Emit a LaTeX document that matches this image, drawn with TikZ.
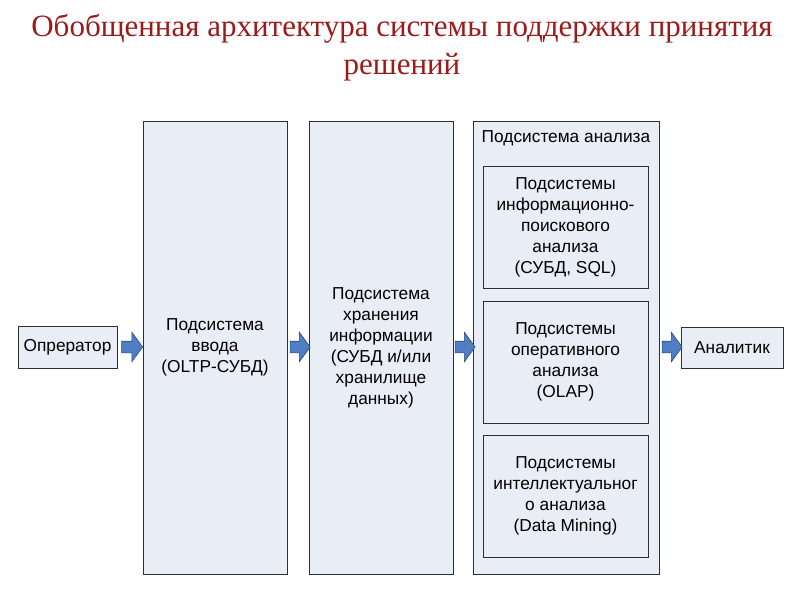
\documentclass[tikz,border=0pt]{standalone}
\usepackage{fontspec}
\setmainfont{Liberation Sans}
\newfontfamily\titlefont{Liberation Serif}
\usetikzlibrary{shapes.arrows,calc}
\definecolor{boxfill}{HTML}{E9EEF6}
\definecolor{boxline}{HTML}{2E2E2E}
\definecolor{arrfill}{HTML}{4F7EC4}
\definecolor{arrline}{HTML}{2A4A7E}
\definecolor{titlered}{HTML}{9B1B1B}
\tikzset{
  blk/.style={draw=boxline, fill=boxfill, line width=0.9pt, inner sep=0pt, align=center,
    font=\fontsize{17.3}{21}\selectfont},
  bigarrow/.style={single arrow, draw=arrline, fill=arrfill, line width=0.6pt,
    inner xsep=0pt, inner ysep=5.5pt, single arrow head extend=9pt,
    single arrow tip angle=108, minimum height=#1, anchor=center},
  lbl/.style={align=center, font=\fontsize{17.3}{21}\selectfont, inner sep=0pt}
}
\begin{document}
\begin{tikzpicture}[x=1pt,y=-1pt]
\useasboundingbox (0,0) rectangle (800,600);
% title
\node[align=center, text=titlered, font=\titlefont\fontsize{31}{38}\selectfont, inner sep=0pt] (title) at (402,47.5)
  {Обобщенная архитектура системы поддержки принятия\\решений};
% boxes
\node[blk, minimum width=99pt, minimum height=42pt] (op) at (67.5,347) {Опрератор};
\node[blk, minimum width=144pt, minimum height=453pt] (inp) at (215,347.5) {Подсистема\\ввода\\(OLTP-СУБД)};
\node[blk, minimum width=144pt, minimum height=453pt] (stor) at (381,347.5) {Подсистема\\хранения\\информации\\(СУБД и/или\\хранилище\\данных)};
\node[blk, minimum width=186pt, minimum height=453pt] (ana) at (566,347.5) {};
\node[lbl, anchor=north] (analbl) at ([yshift=-9.5pt]ana.north) {Подсистема анализа};
\node[blk, minimum width=165pt, minimum height=122pt] (s1) at (565.5,227) {Подсистемы\\информационно-\\поискового\\анализа\\(СУБД, SQL)};
\node[blk, minimum width=165pt, minimum height=122pt] (s2) at (565.5,362) {Подсистемы\\оперативного\\анализа\\(OLAP)};
\node[blk, minimum width=165pt, minimum height=122pt] (s3) at (565.5,496) {Подсистемы\\интеллектуальног\\о анализа\\(Data Mining)};
\node[blk, minimum width=102pt, minimum height=41pt] (an) at (732,347.5) {Аналитик};
% arrows
\node[bigarrow=21pt] (a1) at ($(op.east)!0.5!(inp.west|-op.east)$) {};
\node[bigarrow=20pt] (a2) at ($(inp.east|-op.east)!0.5!(stor.west|-op.east)$) {};
\node[bigarrow=20pt] (a3) at ($(stor.east|-op.east)!0.5!(ana.west|-op.east)$) {};
\node[bigarrow=20pt] (a4) at ($(ana.east|-op.east)!0.5!(an.west|-op.east)$) {};
\end{tikzpicture}
\end{document}
